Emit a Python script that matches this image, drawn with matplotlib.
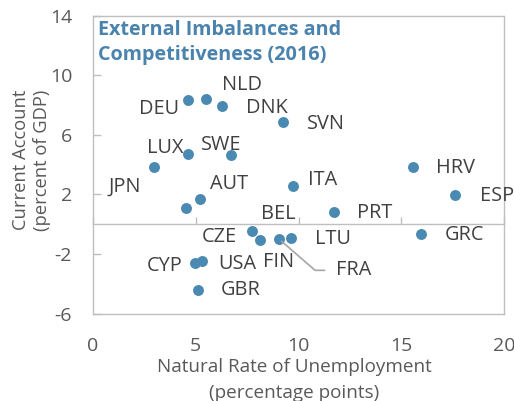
import matplotlib
matplotlib.use("Agg")
import matplotlib.pyplot as plt

plt.rcParams["font.family"] = ["Open Sans", "DejaVu Sans"]
plt.rcParams["axes.unicode_minus"] = False

# data
countries = ["DEU", "NLD", "DNK", "SVN", "LUX", "SWE", "JPN", "AUT", "CZE", "ITA",
             "HRV", "ESP", "PRT", "BEL", "FIN", "FRA", "LTU", "GRC", "CYP", "USA", "GBR"]
nairu = [4.63, 5.52, 6.30, 9.24, 4.63, 6.72, 2.97, 5.23, 4.53, 9.74,
         15.56, 17.61, 11.72, 7.76, 8.12, 9.07, 9.63, 15.97, 4.95, 5.28, 5.10]
current_account = [8.34, 8.41, 7.97, 6.85, 4.72, 4.65, 3.83, 1.70, 1.11, 2.57,
                   3.87, 1.95, 0.85, -0.43, -1.07, -1.01, -0.92, -0.67, -2.62, -2.44, -4.41]
x_ticks = [0, 5, 10, 15, 20]
y_ticks = [14, 10, 6, 2, -2, -6]

# label offsets in pixels (dx, dy), y up
LABEL_OFFSETS = {
    "DEU": (-29, -9), "NLD": (36, 14), "DNK": (44, -2), "SVN": (43, -2),
    "LUX": (-23, 6), "SWE": (-10, 10), "JPN": (-29, -20), "AUT": (29, 15),
    "CZE": (33, -29), "ITA": (29, 6), "HRV": (43, -1), "ESP": (42, -1),
    "PRT": (41, -1), "BEL": (26, 17), "FIN": (19, -22), "FRA": (74, -31),
    "LTU": (42, -1), "GRC": (43, -1), "CYP": (-30, -3), "USA": (36, -3),
    "GBR": (43, 0),
}

DOT = "#4a89b2"
TITLE = "#4a83ad"
GRID = "#bfbfbf"
TXT = "#404040"
TICK = "#595959"

fig = plt.figure(figsize=(5.14, 4.01), dpi=100)
ax = fig.add_axes([0.181, 0.2177, 0.7995, 0.7433])

ax.scatter(nairu, current_account, s=62, color=DOT, zorder=3, linewidths=0)

for name, x, y in zip(countries, nairu, current_account):
    dx, dy = LABEL_OFFSETS[name]
    kw = {}
    if name == "FRA":
        kw["arrowprops"] = dict(arrowstyle="-", color="#a6a6a6", lw=1.2,
                                shrinkA=6, shrinkB=2, relpos=(0, 0.5),
                                connectionstyle="angle,angleA=0,angleB=-41,rad=0")
    ax.annotate(name, (x, y), xytext=(dx, dy), textcoords="offset pixels",
                ha="center", va="center", fontsize=14.3, color=TXT, **kw)

ax.set_xlim(0, 20)
ax.set_ylim(-6, 14)
ax.set_xticks(x_ticks)
ax.set_yticks(y_ticks)
ax.tick_params(axis="x", length=0, pad=17, labelsize=14, labelcolor=TICK)
ax.tick_params(axis="y", direction="in", length=6, width=1, color=GRID,
               pad=15, labelsize=14, labelcolor=TICK)
for sp in ax.spines.values():
    sp.set_color(GRID)
    sp.set_linewidth(1)

# horizontal axis crossing at zero
zero_frac = (0 - ax.get_ylim()[0]) / (ax.get_ylim()[1] - ax.get_ylim()[0])
sec = ax.secondary_xaxis(zero_frac)
sec.set_xticks(x_ticks)
sec.tick_params(axis="x", direction="in", length=5, width=1, color=GRID,
                labelbottom=False, labeltop=False)
sec.spines["bottom"].set_color(GRID)
sec.spines["bottom"].set_linewidth(1)

ax.text(0.012, 0.985, "External Imbalances and\nCompetitiveness (2016)",
        transform=ax.transAxes, ha="left", va="top", fontsize=14.2,
        fontweight="bold", color=TITLE, linespacing=1.3)

ax.text(0.489, -0.222, "Natural Rate of Unemployment\n(percentage points)",
        transform=ax.transAxes, ha="center", va="center", fontsize=13.6,
        color=TICK, linespacing=1.55)
ax.text(-0.15, 0.515, "Current Account\n(percent of GDP)",
        transform=ax.transAxes, ha="center", va="center", rotation=90,
        fontsize=13.2, color=TICK, linespacing=1.2)

fig.savefig("out.png", dpi=100)
